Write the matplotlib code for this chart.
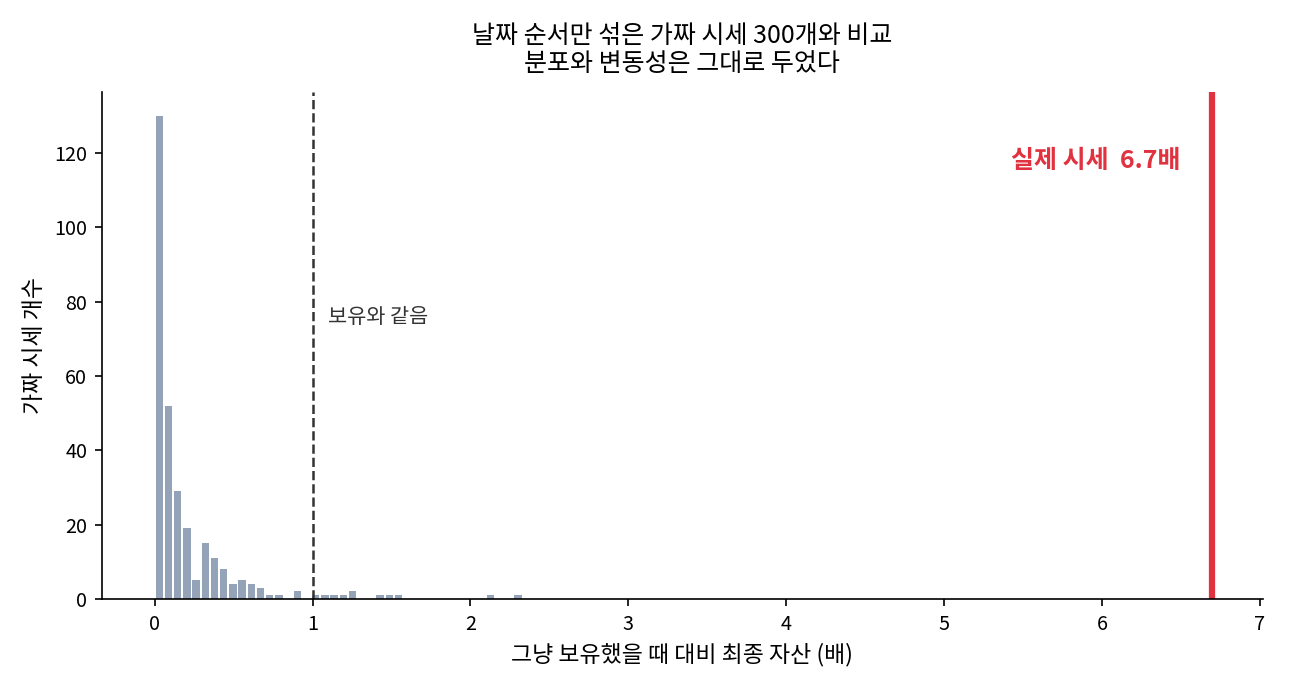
import numpy as np
import matplotlib
matplotlib.use("Agg")
import matplotlib.pyplot as plt

plt.rcParams['font.family'] = ['Noto Sans CJK KR', 'DejaVu Sans']

# histogram of 300 shuffled-price results: 40 bins between lo and hi
bin_lo = 0.0
bin_hi = 2.33
counts = [130, 52, 29, 19, 5, 15, 11, 8, 4, 5,
          4, 3, 1, 1, 0, 2, 0, 1, 1, 1,
          1, 2, 0, 0, 1, 1, 1, 0, 0, 0,
          0, 0, 0, 0, 0, 0, 1, 0, 0, 1]
actual = 6.7
hold_line = 1.0

edges = np.linspace(bin_lo, bin_hi, len(counts) + 1)
centers = (edges[:-1] + edges[1:]) / 2
bw = edges[1] - edges[0]

fig = plt.figure(figsize=(8.6, 4.6), dpi=150)
ax = fig.add_axes([0.079, 0.132, 0.9, 0.735])

ax.bar(centers, counts, width=bw * 0.8, color='#94a3b8')
ax.axvline(hold_line, color='#333333', linestyle='--', linewidth=1.2)
ax.axvline(actual, color='#e0323f', linewidth=3)

ax.text(1.1, 76, '보유와 같음', fontsize=10, color='#333333', va='center')
ax.text(6.5, 118, f'실제 시세  {actual}배', fontsize=12, color='#e0323f',
        fontweight='bold', ha='right', va='center')

ax.set_xlim(-0.335, 7.02)
ax.set_ylim(0, 136.5)
ax.set_xlabel('그냥 보유했을 때 대비 최종 자산 (배)', fontsize=11)
ax.set_ylabel('가짜 시세 개수', fontsize=11)
ax.set_title('날짜 순서만 섞은 가짜 시세 300개와 비교\n분포와 변동성은 그대로 두었다',
             fontsize=12, linespacing=1.1, pad=10)
ax.tick_params(labelsize=9.5)
ax.spines['top'].set_visible(False)
ax.spines['right'].set_visible(False)

fig.savefig('out.png', dpi=150)
